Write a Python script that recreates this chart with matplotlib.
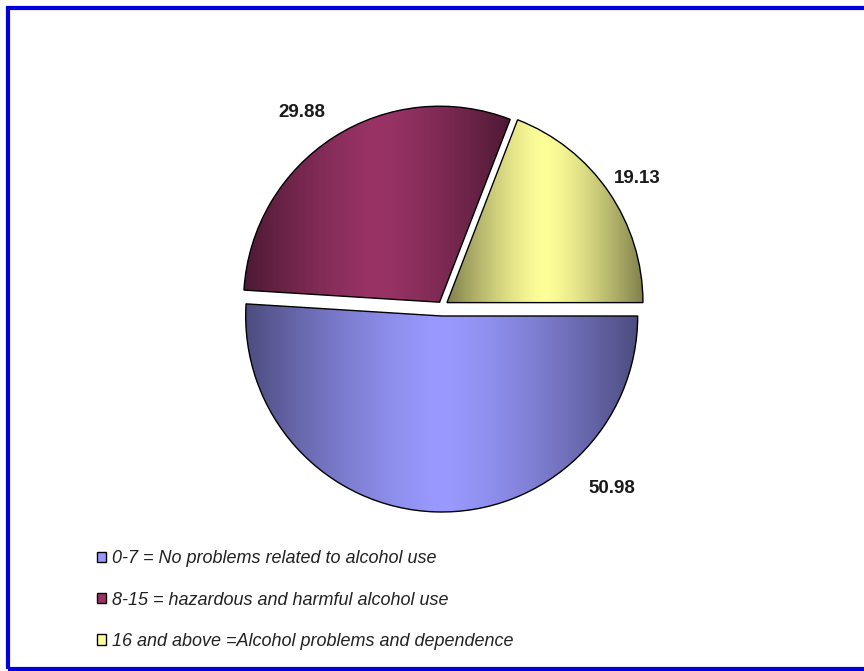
import numpy as np
import matplotlib
matplotlib.use("Agg")
import matplotlib.pyplot as plt
from matplotlib.patches import Patch, Rectangle
from matplotlib.colors import to_rgb

plt.rcParams['font.family'] = ['Liberation Sans', 'DejaVu Sans']

# data
categories = ['0-7 = No problems related to alcohol use',
              '8-15 = hazardous and harmful alcohol use',
              '16 and above =Alcohol problems and dependence']
values = [50.98, 29.88, 19.13]
colors = ['#9999ff', '#993366', '#ffff99']

# layout (pixel coords of figure, y measured from top)
W, H = 864, 671
cx, cy, R = 442, 306, 196
explode = [10, 4.5, 6]          # pixels (pie does not scale explode by radius)
label_ang = [-47, 126, 33]      # degrees, where each value label sits
label_dist = [1.27, 1.22, 1.19]

fig = plt.figure(figsize=(W / 100, H / 100), dpi=100)
ax = fig.add_axes([0, 0, 1, 1])

wedges, _ = ax.pie(values, colors=colors, startangle=0, counterclock=False,
                   explode=explode, radius=R, center=(cx, H - cy),
                   wedgeprops=dict(edgecolor='black', linewidth=1.0),
                   frame=True)

# horizontal shading, dark at the sides and light in the middle
for w, c in zip(wedges, colors):
    x0, y0, x1, y1 = w.get_path().get_extents().extents
    t = np.linspace(0, 1, 300)
    f = 1 - 0.5 * np.abs(2 * t - 1) ** 1.4
    base = np.array(to_rgb(c))
    grad = (f[:, None] * base[None, :])[None, :, :]
    im = ax.imshow(grad, extent=[x0, x1, y0, y1], aspect='auto',
                   interpolation='bilinear', zorder=w.get_zorder())
    im.set_clip_path(w)
    w.set_facecolor('none')
    w.set_zorder(w.get_zorder() + 0.5)

for v, a, d in zip(values, label_ang, label_dist):
    th = np.radians(a)
    ax.text(cx + d * R * np.cos(th), H - cy + d * R * np.sin(th),
            f'{v:.2f}', ha='center', va='center', fontsize=13.5,
            fontweight='bold', color='#1a1a1a')

ax.set_xlim(0, W)
ax.set_ylim(0, H)
ax.set_aspect('equal')
ax.axis('off')

# blue frame round the chart
fig.patches.append(Rectangle((8 / W, 2 / H), 1.0, (H - 10) / H,
                             transform=fig.transFigure, fill=False,
                             edgecolor='#0000dd', linewidth=3))

handles = [Patch(facecolor=c, edgecolor='black', linewidth=1) for c in colors]
leg = fig.legend(handles, categories, loc='upper left',
                 bbox_to_anchor=(81 / W, 1 - 534 / H), frameon=False,
                 handlelength=0.5, handleheight=0.5, handletextpad=0.3,
                 labelspacing=1.35,
                 prop=dict(family='Liberation Sans', style='italic', size=13))
for txt in leg.get_texts():
    txt.set_color('#222222')

fig.savefig('out.png', dpi=100)
